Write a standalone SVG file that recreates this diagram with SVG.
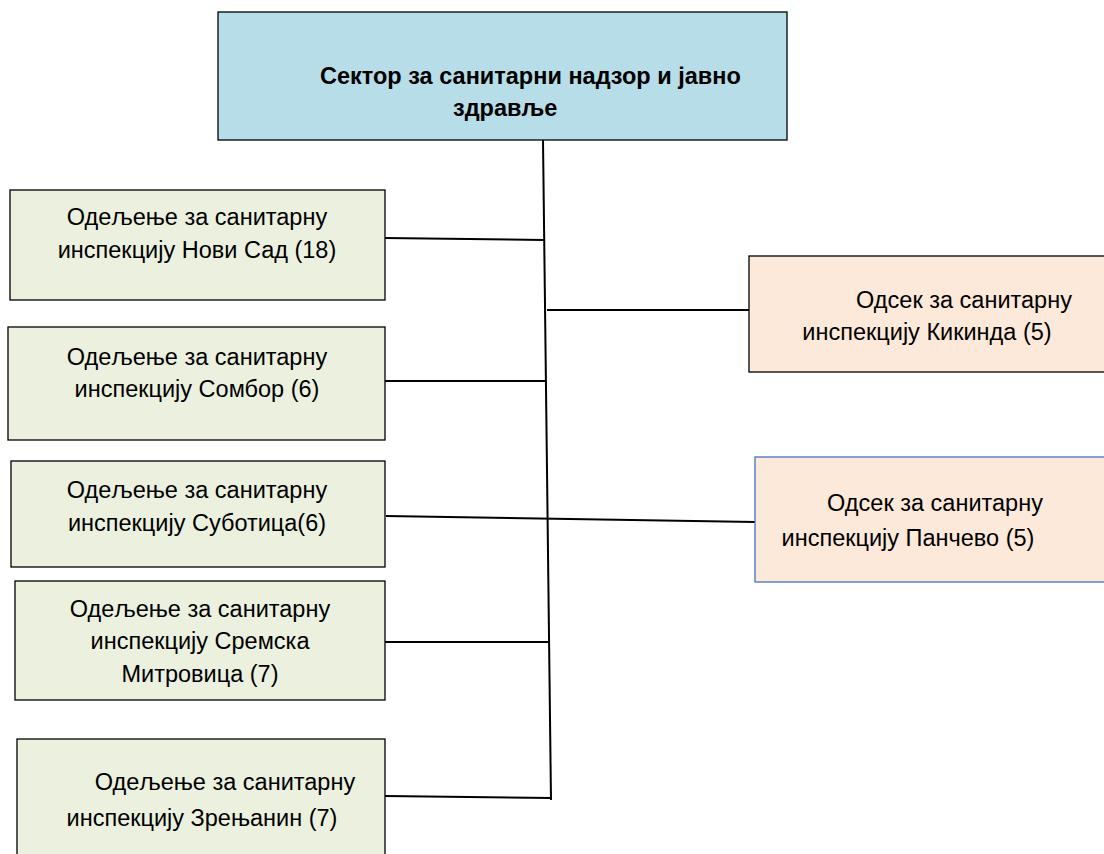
<svg xmlns="http://www.w3.org/2000/svg" width="1104" height="854" viewBox="0 0 1104 854">
<style>
.box{stroke:#000;stroke-width:1.3}
.top{fill:#b7dde8}
.left{fill:#ebf1de}
.right{fill:#fde9d9}
.t{font-family:"Liberation Sans",Arial,sans-serif;font-size:23.5px;fill:#000}
.b{font-weight:bold}
.c{stroke:#000;stroke-width:2;fill:none}
</style>
<rect width="1104" height="854" fill="#fff"/>
<g id="connectors">
<polyline class="c" points="543,140 551,800"/>
<line class="c" x1="385" y1="238" x2="544" y2="240"/>
<line class="c" x1="385" y1="381" x2="545" y2="381"/>
<line class="c" x1="386" y1="516" x2="755" y2="522"/>
<line class="c" x1="385" y1="642" x2="548" y2="642"/>
<line class="c" x1="385" y1="796" x2="551" y2="798"/>
<line class="c" x1="547" y1="310" x2="749" y2="310"/>
</g>
<g id="sector">
<rect class="box top" x="218" y="12" width="569" height="128"/>
<text class="t b" x="320" y="84">Сектор за санитарни надзор и јавно</text>
<text class="t b" x="453" y="116">здравље</text>
</g>
<g id="novisad">
<rect class="box left" x="10" y="190" width="375" height="110"/>
<text class="t" x="197" y="225" text-anchor="middle">Одељење за санитарну</text>
<text class="t" x="197" y="258" text-anchor="middle">инспекцију Нови Сад (18)</text>
</g>
<g id="sombor">
<rect class="box left" x="8" y="327" width="377" height="113"/>
<text class="t" x="197" y="365" text-anchor="middle">Одељење за санитарну</text>
<text class="t" x="197" y="397" text-anchor="middle">инспекцију Сомбор (6)</text>
</g>
<g id="subotica">
<rect class="box left" x="11" y="461" width="374" height="106"/>
<text class="t" x="197" y="498" text-anchor="middle">Одељење за санитарну</text>
<text class="t" x="197" y="531" text-anchor="middle">инспекцију Суботица(6)</text>
</g>
<g id="sremska">
<rect class="box left" x="15" y="581" width="370" height="119"/>
<text class="t" x="200" y="617" text-anchor="middle">Одељење за санитарну</text>
<text class="t" x="200" y="649" text-anchor="middle">инспекцију Сремска</text>
<text class="t" x="200" y="682" text-anchor="middle">Митровица (7)</text>
</g>
<g id="zrenjanin">
<rect class="box left" x="17" y="739" width="368" height="120"/>
<text class="t" x="225" y="790" text-anchor="middle">Одељење за санитарну</text>
<text class="t" x="202" y="826" text-anchor="middle">инспекцију Зрењанин (7)</text>
</g>
<g id="kikinda">
<rect class="box right" x="749" y="256" width="360" height="116"/>
<text class="t" x="964" y="308" text-anchor="middle">Одсек за санитарну</text>
<text class="t" x="927" y="340" text-anchor="middle">инспекцију Кикинда (5)</text>
</g>
<g id="pancevo">
<rect class="box right" x="755" y="457" width="354" height="125" style="stroke:#4472c4"/>
<text class="t" x="935" y="511" text-anchor="middle">Одсек за санитарну</text>
<text class="t" x="908" y="546" text-anchor="middle">инспекцију Панчево (5)</text>
</g>
</svg>
